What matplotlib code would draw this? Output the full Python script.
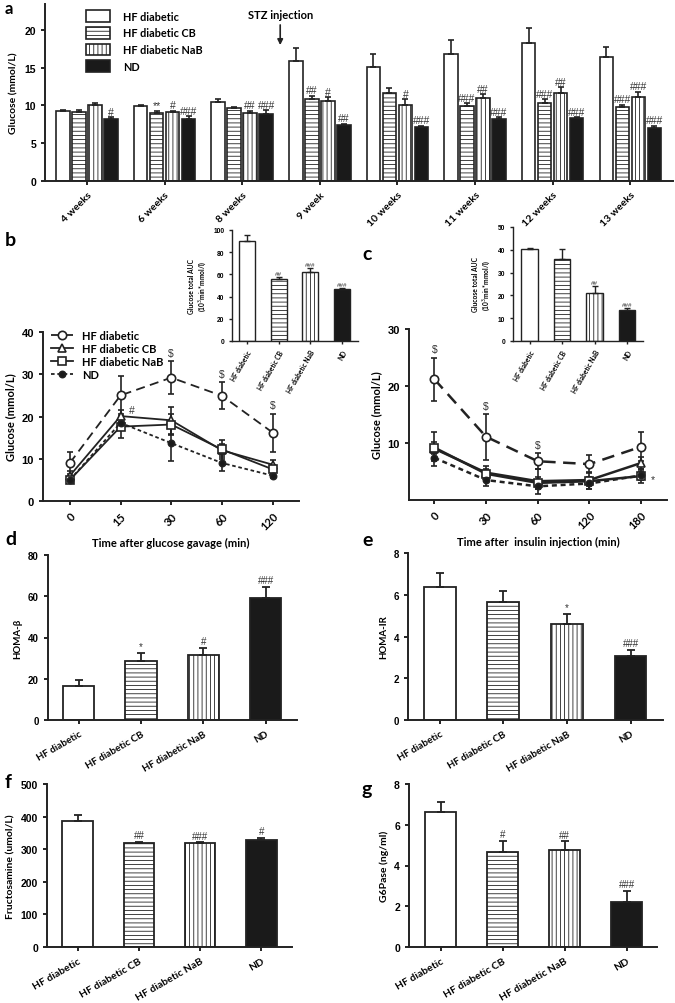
import numpy as np
import matplotlib
matplotlib.use("Agg")
import matplotlib.pyplot as plt
from matplotlib.lines import Line2D

plt.rcParams['font.family'] = ['Lato', 'DejaVu Sans']
plt.rcParams['hatch.linewidth'] = 0.6
plt.rcParams['axes.linewidth'] = 1.4

groups = ['HF diabetic', 'HF diabetic CB', 'HF diabetic NaB', 'ND']

# panel a - weekly glucose
weeks = ['4 weeks', '6 weeks', '8 weeks', '9 week', '10 weeks', '11 weeks', '12 weeks', '13 weeks']
a_hf = [9.2, 9.9, 10.4, 15.8, 15.1, 16.8, 18.3, 16.4]
a_hf_sem = [0.25, 0.1, 0.4, 1.8, 1.7, 1.9, 1.9, 1.3]
a_cb = [9.1, 9.0, 9.6, 10.9, 11.7, 9.9, 10.3, 9.75]
a_cb_sem = [0.3, 0.3, 0.2, 0.4, 0.6, 0.4, 0.5, 0.35]
a_nab = [10.0, 9.1, 9.0, 10.6, 10.1, 11.0, 11.6, 11.1]
a_nab_sem = [0.3, 0.2, 0.3, 0.5, 0.7, 0.5, 0.8, 0.7]
a_nd = [8.2, 8.2, 8.8, 7.45, 7.1, 8.2, 8.3, 7.05]
a_nd_sem = [0.2, 0.4, 0.6, 0.15, 0.2, 0.2, 0.1, 0.25]
a_hf_mk = [''] * 8
a_cb_mk = ['', '**', '', '##', '', '###', '###', '###']
a_nab_mk = ['', '#', '##', '#', '#', '##', '##', '###']
a_nd_mk = ['#', '###', '###', '##', '###', '###', '###', '###']

# panel b - OGTT
times_b = ['0', '15', '30', '60', '120']
b_hf = [9.0, 25.0, 29.2, 24.9, 16.2]
b_hf_sem = [2.7, 4.5, 3.9, 3.2, 4.5]
b_cb = [6.0, 20.1, 19.1, 12.0, 8.6]
b_cb_sem = [1.0, 1.5, 3.2, 1.5, 1.0]
b_nab = [5.0, 17.6, 18.1, 12.2, 7.5]
b_nab_sem = [0.8, 2.6, 2.5, 2.2, 1.0]
b_nd = [5.0, 18.5, 13.7, 9.0, 6.0]
b_nd_sem = [0.8, 1.5, 4.2, 2.0, 0.5]
b_auc = [90.5, 56.0, 62.5, 46.5]
b_auc_sem = [5.0, 1.5, 3.5, 1.0]
b_auc_mk = ['', '##', '###', '###']

# panel c - ITT
times_c = ['0', '30', '60', '120', '180']
c_hf = [21.2, 11.1, 6.8, 6.3, 9.35]
c_hf_sem = [3.8, 4.0, 1.4, 1.6, 2.5]
c_cb = [9.0, 4.8, 3.3, 3.5, 6.5]
c_cb_sem = [3.0, 1.2, 2.2, 1.5, 1.0]
c_nab = [9.2, 4.6, 3.0, 3.3, 4.2]
c_nab_sem = [1.0, 0.8, 1.0, 0.8, 1.2]
c_nd = [7.4, 3.5, 2.4, 2.9, 4.3]
c_nd_sem = [0.6, 1.0, 0.5, 1.0, 0.8]
c_auc = [40.5, 36.0, 21.0, 13.5]
c_auc_sem = [0.3, 4.5, 3.0, 1.0]
c_auc_mk = ['', '', '##', '###']

# panels d-g
homa_b = [16.5, 28.5, 31.5, 59.0]
homa_b_sem = [2.8, 4.2, 3.5, 5.5]
homa_b_mk = ['', '*', '#', '###']
homa_ir = [6.35, 5.65, 4.62, 3.08]
homa_ir_sem = [0.7, 0.55, 0.48, 0.27]
homa_ir_mk = ['', '', '*', '###']
fructo = [388, 318, 318, 329]
fructo_sem = [16, 4, 3, 6]
fructo_mk = ['', '##', '###', '#']
g6p = [6.65, 4.68, 4.78, 2.2]
g6p_sem = [0.45, 0.54, 0.4, 0.55]
g6p_mk = ['', '#', '##', '###']

faces = ['white', 'white', 'white', '#1a1a1a']
hatches = [None, '----', '||||', None]
edge = '#222222'
W, H = 675, 1004
num_font = 'Liberation Sans'


def axes_px(left, top, right, bottom):
    return fig.add_axes([left / W, 1 - bottom / H, (right - left) / W, (bottom - top) / H])


def style(ax, fs, lw=1.4):
    for s in ['top', 'right']:
        ax.spines[s].set_visible(False)
    for s in ['left', 'bottom']:
        ax.spines[s].set_linewidth(lw)
        ax.spines[s].set_color(edge)
    ax.tick_params(width=lw, length=3, color=edge, labelsize=fs)
    for t in ax.get_yticklabels():
        t.set_fontfamily(num_font)
        t.set_fontweight('bold')


def bars4(ax, vals, sems, marks, xlim, ylim, ylab, yticks, fs=7, mfs=7, rot=30, lw=1.3, cap=3):
    x = np.arange(4)
    for i in range(4):
        ax.bar(x[i], vals[i], width=0.5, color=faces[i], edgecolor=edge,
               hatch=hatches[i], linewidth=lw)
    ax.errorbar(x, vals, yerr=[np.zeros(4), sems], fmt='none', ecolor=edge,
                elinewidth=lw, capsize=cap, capthick=lw)
    off = ylim[1] * 0.01
    for i in range(4):
        if marks[i]:
            ax.text(x[i], vals[i] + sems[i] + off, marks[i], ha='center', va='bottom',
                    fontsize=mfs, family=num_font, color='#333333')
    ax.set_xlim(*xlim)
    ax.set_ylim(*ylim)
    ax.set_yticks(yticks)
    ax.set_xticks(x)
    ax.set_xticklabels(groups, rotation=rot, ha='right', rotation_mode='anchor',
                       fontsize=fs, fontweight='bold')
    ax.set_ylabel(ylab, fontsize=fs, fontweight='bold')
    style(ax, fs)


fig = plt.figure(figsize=(6.75, 10.04), dpi=100)

# ---------------- panel a
ax = axes_px(45, 5, 673, 182)
xa = np.arange(len(weeks))
bw, step = 0.174, 0.206
series_a = [(a_hf, a_hf_sem, a_hf_mk), (a_cb, a_cb_sem, a_cb_mk),
            (a_nab, a_nab_sem, a_nab_mk), (a_nd, a_nd_sem, a_nd_mk)]
handles = []
for k, (v, e, m) in enumerate(series_a):
    xs = xa + (k - 1.5) * step
    h = ax.bar(xs, v, width=bw, color=faces[k], edgecolor=edge, hatch=hatches[k],
               linewidth=1.2, label=groups[k])
    handles.append(h)
    ax.errorbar(xs, v, yerr=[np.zeros(len(v)), e], fmt='none', ecolor=edge,
                elinewidth=1.2, capsize=2, capthick=1.2)
    for i in range(len(v)):
        if m[i]:
            ax.text(xs[i], v[i] + e[i] + 0.05, m[i], ha='center', va='bottom',
                    fontsize=7.5, family=num_font, color='#333333')
ax.set_xlim(-0.54, 7.55)
ax.set_ylim(0, 23.4)
ax.set_yticks([0, 5, 10, 15, 20])
ax.set_xticks(xa)
ax.set_xticklabels(weeks, rotation=45, ha='right', rotation_mode='anchor',
                   fontsize=7.5, fontweight='bold')
ax.set_ylabel('Glucose (mmol/L)', fontsize=7.5, fontweight='bold')
style(ax, 7.5)
leg = ax.legend(handles=handles, loc='upper left', bbox_to_anchor=(0.05, 1.02),
                frameon=False, prop={'size': 7.8, 'weight': 'bold'},
                handlelength=2.2, handleheight=1.3, labelspacing=0.45, handletextpad=1.2)
ax.annotate('', xy=(2.49, 17.6), xytext=(2.49, 21.0),
            arrowprops=dict(arrowstyle='-|>', color='#222222', lw=1.2, mutation_scale=8))
ax.text(2.5, 22.0, 'STZ injection', ha='center', va='center', fontsize=8, fontweight='bold')
fig.text(5 / W, 1 - 9 / H, 'a', fontsize=12, fontweight='bold', va='center')

# ---------------- panel b
line_specs = [
    dict(marker='o', mfc='white', ls=(0, (5, 3)), ms=6),
    dict(marker='^', mfc='white', ls='-', ms=6),
    dict(marker='s', mfc='white', ls='-', ms=6),
    dict(marker='o', mfc='#1a1a1a', ls=(0, (2, 1.5)), ms=4.5),
]


def lines(ax, labels, series, lw):
    xs = np.arange(len(labels))
    for k, (v, e) in enumerate(series):
        sp = line_specs[k]
        h = ax.errorbar(xs, v, yerr=e, color=edge, lw=lw, ls=sp['ls'], marker=sp['marker'],
                        mfc=sp['mfc'], mec=edge, mew=1.2, ms=sp['ms'],
                        elinewidth=1.2, capsize=2.5, capthick=1.2)
        h[-1][0].set_linestyle('-')
    return xs


ax = axes_px(43, 333, 299, 502)
xs = lines(ax, times_b, [(b_hf, b_hf_sem), (b_cb, b_cb_sem), (b_nab, b_nab_sem), (b_nd, b_nd_sem)], 1.3)
for i in [2, 3, 4]:
    ax.text(xs[i], b_hf[i] + b_hf_sem[i] + 0.8, '$', ha='center', va='bottom',
            fontsize=7.5, family=num_font, color='#333333')
ax.text(xs[1] + 0.22, b_cb[1] + 0.3, '#', ha='center', va='bottom', fontsize=7.5,
        family=num_font, color='#333333')
ax.set_xlim(-0.53, 4.52)
ax.set_ylim(0, 40)
ax.set_yticks([0, 10, 20, 30, 40])
ax.set_xticks(xs)
ax.set_xticklabels(times_b, rotation=45, ha='right', rotation_mode='anchor',
                   fontsize=7.5, fontweight='bold')
ax.set_ylabel('Glucose (mmol/L)', fontsize=8, fontweight='bold')
ax.set_xlabel('Time after glucose gavage (min)', fontsize=8, fontweight='bold')
style(ax, 8)
hb = [Line2D([], [], color=edge, lw=1.3, ls=sp['ls'], marker=sp['marker'], mfc=sp['mfc'],
             mec=edge, mew=1.2, ms=sp['ms']) for sp in line_specs]
ax.legend(handles=hb, labels=groups, loc='upper left', bbox_to_anchor=(0.0, 1.06),
          frameon=False, prop={'size': 8, 'weight': 'bold'}, handlelength=2.0,
          labelspacing=0.2, handletextpad=0.8, borderaxespad=0.3)
fig.text(5 / W, 1 - 240 / H, 'b', fontsize=14, fontweight='bold', va='center')

ax = axes_px(232, 231, 358, 342)
bars4(ax, b_auc, b_auc_sem, b_auc_mk, (-0.47, 3.5), (0, 100),
      'Glucose total AUC\n(10$^3$min*mmol/l)', [0, 20, 40, 60, 80, 100],
      fs=4.8, mfs=4.5, rot=60, lw=1.0, cap=2)
style(ax, 4.8, lw=1.0)
ax.tick_params(length=2)

# ---------------- panel c
ax = axes_px(409, 330, 667, 501)
xs = lines(ax, times_c, [(c_hf, c_hf_sem), (c_cb, c_cb_sem), (c_nab, c_nab_sem), (c_nd, c_nd_sem)], 1.8)
for i in [0, 1, 2]:
    ax.text(xs[i], c_hf[i] + c_hf_sem[i] + 0.6, '$', ha='center', va='bottom',
            fontsize=7.5, family=num_font, color='#333333')
ax.text(xs[4] + 0.22, c_nab[4] - 0.6, '*', ha='center', va='center', fontsize=7.5,
        family=num_font, color='#333333')
ax.set_xlim(-0.49, 4.5)
ax.set_ylim(0, 30)
ax.set_yticks([10, 20, 30])
ax.set_xticks(xs)
ax.set_xticklabels(times_c, rotation=45, ha='right', rotation_mode='anchor',
                   fontsize=7.5, fontweight='bold')
ax.set_ylabel('Glucose (mmol/L)', fontsize=8, fontweight='bold')
ax.set_xlabel('Time after  insulin injection (min)', fontsize=8, fontweight='bold')
style(ax, 8)
fig.text(362 / W, 1 - 254 / H, 'c', fontsize=14, fontweight='bold', va='center')

ax = axes_px(513, 228, 643, 342)
bars4(ax, c_auc, c_auc_sem, c_auc_mk, (-0.51, 3.49), (0, 50),
      'Glucose total AUC\n(10$^3$min*mmol/l)', [0, 10, 20, 30, 40, 50],
      fs=4.8, mfs=4.5, rot=60, lw=1.0, cap=2)
style(ax, 4.8, lw=1.0)
ax.tick_params(length=2)

# ---------------- panels d-g
ax = axes_px(48, 556, 297, 721)
bars4(ax, homa_b, homa_b_sem, homa_b_mk, (-0.49, 3.5), (0, 80), 'HOMA-β',
      [0, 20, 40, 60, 80], fs=7)
fig.text(5 / W, 1 - 540 / H, 'd', fontsize=14, fontweight='bold', va='center')

ax = axes_px(408, 554, 663, 721)
bars4(ax, homa_ir, homa_ir_sem, homa_ir_mk, (-0.5, 3.51), (0, 8), 'HOMA-IR',
      [0, 2, 4, 6, 8], fs=7)
fig.text(362 / W, 1 - 541 / H, 'e', fontsize=14, fontweight='bold', va='center')

ax = axes_px(47, 785, 292, 948)
bars4(ax, fructo, fructo_sem, fructo_mk, (-0.5, 3.5), (0, 500), 'Fructosamine (umol/L)',
      [0, 100, 200, 300, 400, 500], fs=7.5)
fig.text(5 / W, 1 - 783 / H, 'f', fontsize=14, fontweight='bold', va='center')

ax = axes_px(409, 785, 657, 948)
bars4(ax, g6p, g6p_sem, g6p_mk, (-0.51, 3.49), (0, 8), 'G6Pase (ng/ml)',
      [0, 2, 4, 6, 8], fs=7.5)
fig.text(362 / W, 1 - 790 / H, 'g', fontsize=14, fontweight='bold', va='center')

fig.savefig('out.png', dpi=100)
